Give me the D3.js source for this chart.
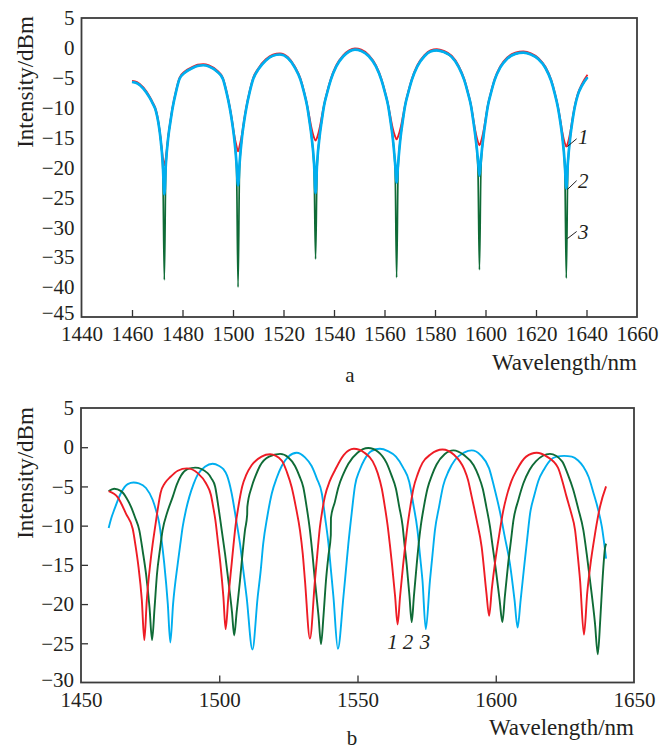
<!DOCTYPE html>
<html>
<head>
<meta charset="utf-8">
<script src="https://cdn.jsdelivr.net/npm/d3@7"></script>
<style>
  html, body { margin: 0; padding: 0; background: #ffffff; }
  svg { display: block; }
  svg text { font-family: "Liberation Serif", "Times New Roman", serif; fill: #231f20; }
</style>
</head>
<body>
<svg id="chart" width="670" height="749"></svg>
<script>
// ---------- Panel a: data ----------
const aWavelength = [1460.0,1462.0,1464.5,1466.8,1468.2,1469.5,1470.4,1471.2,1472.2,1472.8,1473.4,1474.4,1475.2,1476.1,1477.4,1478.8,1481.0,1483.8,1486.0,1488.2,1490.5,1493.8,1496.0,1497.4,1498.7,1499.6,1500.4,1501.4,1502.0,1502.6,1503.6,1504.4,1505.3,1506.6,1508.0,1510.2,1513.0,1515.8,1518.6,1521.7,1524.5,1526.7,1528.1,1529.4,1530.3,1531.1,1532.1,1532.7,1533.3,1534.3,1535.1,1536.0,1537.3,1538.7,1540.9,1543.7,1546.0,1548.3,1550.8,1553.8,1556.6,1558.8,1560.2,1561.5,1562.4,1563.2,1564.2,1564.8,1565.4,1566.4,1567.2,1568.1,1569.4,1570.8,1573.0,1575.8,1578.2,1580.7,1583.5,1586.6,1589.4,1591.6,1593.0,1594.3,1595.2,1596.0,1597.0,1597.6,1598.2,1599.2,1600.0,1600.9,1602.2,1603.6,1605.8,1608.6,1611.8,1615.0,1618.0,1621.0,1623.8,1626.0,1627.4,1628.7,1629.6,1630.4,1631.4,1632.0,1632.6,1633.6,1634.4,1635.3,1636.6,1638.2,1640.4];
const aSeries1 = [-5.5,-5.7,-6.6,-8.0,-9.1,-10.4,-12.2,-14.6,-18.3,-19.7,-18.3,-14.6,-12.2,-9.8,-7.2,-5.0,-3.9,-3.2,-2.8,-2.7,-2.9,-3.8,-5.0,-7.2,-9.8,-12.0,-14.3,-16.4,-17.3,-16.4,-14.3,-12.0,-9.8,-7.2,-5.0,-3.3,-1.9,-1.1,-0.9,-1.5,-3.1,-5.1,-7.2,-9.6,-11.6,-13.4,-15.0,-15.5,-15.0,-13.4,-11.6,-9.6,-7.3,-5.2,-2.9,-1.2,-0.4,-0.1,-0.3,-1.2,-2.9,-5.2,-7.3,-9.6,-11.6,-13.3,-14.8,-15.3,-14.8,-13.3,-11.6,-9.6,-7.3,-5.2,-2.9,-1.2,-0.4,-0.2,-0.5,-1.3,-3.0,-5.2,-7.3,-9.6,-11.9,-13.9,-15.7,-16.3,-15.7,-13.9,-11.9,-9.6,-7.3,-5.2,-3.1,-1.6,-0.8,-0.6,-0.9,-1.7,-3.2,-5.3,-7.4,-9.8,-11.9,-14.0,-15.9,-16.5,-15.9,-14.0,-11.9,-9.8,-7.6,-6.0,-4.5];
const aSeries2 = [-5.7,-5.9,-6.8,-8.2,-9.3,-10.6,-12.4,-14.8,-19.5,-24.5,-19.5,-14.8,-12.4,-10.0,-7.4,-5.2,-4.1,-3.4,-3.0,-2.9,-3.1,-4.0,-5.2,-7.4,-10.0,-12.3,-14.8,-19.3,-23.0,-19.3,-14.8,-12.3,-10.0,-7.4,-5.2,-3.5,-2.1,-1.3,-1.1,-1.7,-3.3,-5.3,-7.4,-9.8,-12.3,-14.8,-19.3,-24.3,-19.3,-14.8,-12.3,-9.8,-7.5,-5.4,-3.1,-1.4,-0.6,-0.3,-0.5,-1.4,-3.1,-5.4,-7.5,-9.8,-12.3,-14.8,-19.3,-22.5,-19.3,-14.8,-12.3,-9.8,-7.5,-5.4,-3.1,-1.4,-0.6,-0.4,-0.7,-1.5,-3.2,-5.4,-7.5,-9.8,-12.3,-14.8,-18.6,-21.4,-18.6,-14.8,-12.3,-9.8,-7.5,-5.4,-3.3,-1.8,-1.0,-0.8,-1.1,-1.9,-3.4,-5.5,-7.6,-10.0,-12.3,-14.8,-19.3,-23.5,-19.3,-14.8,-12.3,-10.0,-7.8,-6.3,-4.9];
const aSeries3 = [-5.7,-5.9,-6.8,-8.2,-9.3,-10.6,-12.4,-14.8,-20.2,-38.8,-20.2,-14.8,-12.4,-10.0,-7.4,-5.2,-4.1,-3.4,-3.0,-2.9,-3.1,-4.0,-5.2,-7.4,-10.0,-12.3,-14.8,-20.2,-40.0,-20.2,-14.8,-12.3,-10.0,-7.4,-5.2,-3.5,-2.1,-1.3,-1.1,-1.7,-3.3,-5.3,-7.4,-9.8,-12.3,-14.8,-20.2,-35.3,-20.2,-14.8,-12.3,-9.8,-7.5,-5.4,-3.1,-1.4,-0.6,-0.3,-0.5,-1.4,-3.1,-5.4,-7.5,-9.8,-12.3,-14.8,-20.2,-38.4,-20.2,-14.8,-12.3,-9.8,-7.5,-5.4,-3.1,-1.4,-0.6,-0.4,-0.7,-1.5,-3.2,-5.4,-7.5,-9.8,-12.3,-14.8,-20.2,-37.1,-20.2,-14.8,-12.3,-9.8,-7.5,-5.4,-3.3,-1.8,-1.0,-0.8,-1.1,-1.9,-3.4,-5.5,-7.6,-10.0,-12.3,-14.8,-20.2,-38.5,-20.2,-14.8,-12.3,-10.0,-7.8,-6.3,-4.9];
const aXTicks = [1440,1460,1480,1500,1520,1540,1560,1580,1600,1620,1640,1660];
const aYTicks = [5,0,-5,-10,-15,-20,-25,-30,-35,-40,-45];

// ---------- Panel b: data ([wavelength, dBm]) ----------
const bSeries1 = [[1460.0,-5.6],[1463.3,-6.4],[1466.3,-8.5],[1468.7,-10.4],[1469.7,-12.5],[1470.7,-15.0],[1472.0,-19.5],[1472.9,-24.6],[1473.8,-19.5],[1475.0,-15.0],[1475.9,-12.4],[1476.8,-10.2],[1477.8,-7.8],[1478.8,-5.8],[1480.3,-4.6],[1482.3,-3.8],[1485.0,-3.0],[1488.3,-2.7],[1492.2,-3.3],[1495.2,-4.6],[1497.0,-6.1],[1497.8,-7.6],[1498.6,-9.3],[1499.5,-12.0],[1500.4,-14.8],[1501.5,-19.1],[1502.3,-23.2],[1503.3,-19.1],[1504.5,-14.8],[1505.2,-12.3],[1505.9,-10.0],[1507.0,-7.4],[1508.3,-5.0],[1509.8,-3.5],[1511.7,-2.3],[1515.3,-1.2],[1518.4,-0.9],[1522.6,-1.7],[1524.5,-3.2],[1526.2,-5.1],[1527.8,-7.8],[1529.2,-10.6],[1530.2,-13.6],[1531.0,-17.0],[1532.8,-24.4],[1534.6,-17.0],[1535.5,-13.5],[1536.4,-10.2],[1537.3,-8.0],[1538.2,-6.3],[1540.0,-4.3],[1541.9,-2.9],[1545.0,-1.0],[1548.7,-0.2],[1552.5,-0.7],[1555.5,-1.8],[1557.3,-3.3],[1558.8,-5.3],[1559.9,-7.6],[1560.9,-10.0],[1561.7,-12.4],[1562.5,-15.0],[1563.6,-19.0],[1564.5,-22.6],[1565.4,-19.0],[1566.5,-15.0],[1567.3,-12.4],[1568.1,-10.0],[1569.1,-7.6],[1570.2,-5.3],[1571.8,-3.4],[1573.5,-2.0],[1576.5,-0.9],[1580.7,-0.3],[1585.0,-1.0],[1588.6,-2.8],[1590.0,-4.2],[1591.3,-6.3],[1593.1,-9.3],[1594.9,-12.7],[1596.6,-18.5],[1597.6,-21.5],[1598.6,-18.0],[1599.7,-14.8],[1600.6,-12.6],[1601.5,-10.6],[1602.6,-8.3],[1603.9,-6.3],[1605.7,-4.3],[1607.6,-2.9],[1611.0,-1.2],[1614.8,-0.7],[1618.5,-1.2],[1622.5,-2.6],[1624.0,-4.2],[1625.6,-6.3],[1627.2,-8.3],[1628.7,-10.6],[1629.6,-13.6],[1630.5,-17.0],[1631.9,-23.9],[1633.1,-18.5],[1634.3,-14.8],[1635.2,-12.6],[1636.1,-10.6],[1637.7,-7.6],[1639.9,-5.0]];
const bSeries2 = [[1460.0,-5.6],[1462.0,-5.3],[1464.5,-5.6],[1466.5,-6.5],[1468.1,-7.6],[1469.6,-9.0],[1471.1,-10.6],[1472.3,-13.2],[1473.5,-16.1],[1474.8,-20.5],[1475.7,-24.6],[1476.6,-20.5],[1477.5,-16.1],[1478.5,-13.2],[1479.5,-10.6],[1481.2,-8.3],[1483.2,-6.3],[1484.6,-4.8],[1486.2,-3.6],[1488.5,-2.8],[1491.3,-2.6],[1495.8,-3.3],[1497.2,-4.0],[1498.5,-5.0],[1499.7,-7.6],[1500.9,-10.6],[1502.1,-13.6],[1503.3,-17.0],[1504.6,-21.0],[1505.4,-24.0],[1506.3,-21.0],[1507.5,-17.0],[1508.4,-13.6],[1509.3,-10.6],[1510.1,-8.6],[1510.15,-7.6],[1511.7,-5.1],[1513.2,-3.6],[1514.7,-2.4],[1518.0,-1.2],[1522.0,-0.85],[1525.0,-1.3],[1527.4,-2.4],[1528.9,-3.6],[1530.4,-5.1],[1531.6,-7.6],[1532.8,-10.6],[1533.7,-13.6],[1534.6,-17.0],[1535.9,-21.5],[1536.8,-25.1],[1537.7,-21.5],[1538.6,-17.0],[1539.5,-13.8],[1540.35,-11.2],[1540.4,-9.0],[1541.8,-7.0],[1543.1,-5.1],[1544.9,-3.4],[1546.7,-2.1],[1550.0,-0.7],[1553.9,-0.1],[1557.5,-0.6],[1560.5,-2.0],[1562.2,-3.5],[1563.9,-5.3],[1565.1,-7.6],[1566.3,-10.0],[1567.0,-12.4],[1567.8,-15.0],[1568.8,-19.0],[1569.6,-22.3],[1570.4,-19.0],[1571.4,-15.0],[1572.1,-12.4],[1572.9,-10.0],[1574.0,-7.6],[1575.3,-5.3],[1577.0,-3.5],[1578.6,-2.2],[1581.5,-0.9],[1584.7,-0.4],[1588.5,-1.0],[1592.0,-2.3],[1593.7,-3.6],[1595.3,-5.3],[1596.6,-7.6],[1597.9,-10.1],[1598.9,-12.7],[1600.0,-15.5],[1601.4,-19.5],[1602.4,-22.3],[1603.3,-19.0],[1604.5,-14.8],[1605.5,-11.9],[1606.4,-9.3],[1608.2,-6.7],[1610.0,-4.6],[1612.2,-2.9],[1614.5,-1.8],[1619.6,-0.85],[1624.0,-1.8],[1626.0,-3.4],[1628.0,-5.4],[1629.8,-7.8],[1631.7,-10.6],[1632.9,-13.6],[1634.1,-17.0],[1635.9,-22.5],[1636.9,-26.4],[1637.8,-22.0],[1638.6,-17.0],[1639.5,-12.9],[1639.9,-12.3]];
const bSeries3 = [[1460.0,-10.3],[1461.0,-9.0],[1462.1,-7.9],[1464.5,-5.8],[1466.9,-4.7],[1469.0,-4.5],[1470.9,-4.6],[1473.5,-5.2],[1475.9,-6.7],[1477.1,-8.0],[1478.3,-9.7],[1479.2,-12.0],[1480.1,-14.8],[1481.4,-20.0],[1482.3,-24.9],[1483.3,-20.0],[1485.0,-14.8],[1485.9,-12.4],[1486.8,-10.1],[1487.9,-8.1],[1489.2,-6.3],[1490.7,-4.7],[1492.2,-3.5],[1494.8,-2.5],[1497.6,-2.1],[1500.0,-2.4],[1501.5,-2.8],[1502.8,-3.6],[1504.5,-5.9],[1506.0,-9.0],[1507.5,-12.3],[1508.7,-15.7],[1509.9,-19.1],[1512.0,-25.8],[1513.9,-19.1],[1515.0,-15.7],[1515.9,-12.3],[1517.4,-8.8],[1519.0,-5.9],[1520.8,-3.9],[1522.6,-2.4],[1525.0,-1.2],[1528.0,-0.7],[1531.0,-1.3],[1533.4,-2.4],[1535.3,-4.0],[1537.1,-5.9],[1538.3,-9.0],[1539.5,-12.3],[1540.4,-15.7],[1541.3,-19.1],[1542.9,-25.7],[1544.9,-19.1],[1545.8,-15.7],[1546.7,-12.3],[1547.9,-8.4],[1549.1,-4.9],[1550.8,-2.9],[1552.5,-1.6],[1555.0,-0.5],[1558.1,-0.2],[1561.0,-0.5],[1563.9,-1.2],[1566.5,-2.6],[1568.7,-4.4],[1570.2,-7.3],[1571.7,-10.6],[1572.6,-13.8],[1573.5,-17.0],[1574.7,-23.2],[1576.2,-17.0],[1577.1,-13.8],[1578.0,-10.6],[1579.5,-7.6],[1581.0,-4.9],[1583.0,-3.0],[1585.3,-1.6],[1588.5,-0.7],[1591.3,-0.4],[1594.5,-1.0],[1597.6,-2.7],[1599.5,-5.2],[1601.5,-8.2],[1603.3,-11.5],[1605.1,-14.8],[1606.8,-19.5],[1607.9,-23.0],[1609.0,-19.5],[1610.4,-14.8],[1611.4,-11.6],[1612.4,-8.5],[1613.9,-6.2],[1615.4,-4.3],[1617.5,-2.8],[1619.6,-1.7],[1622.0,-1.2],[1624.7,-1.1],[1627.5,-1.2],[1629.8,-1.7],[1631.7,-2.5],[1633.6,-3.8],[1635.4,-5.9],[1637.0,-7.9],[1638.4,-10.2],[1639.9,-14.2]];
const bXTicks = [1450,1500,1550,1600,1650];
const bYTicks = [5,0,-5,-10,-15,-20,-25,-30];

const seriesLabels = ["1", "2", "3"];
const RED = "#ee1c25", CYAN = "#00aeef", GREEN = "#0f6b36";

// ---------- drawing ----------
const svg = d3.select("#chart");
const fmt = d => d < 0 ? "\u2212" + Math.abs(d) : String(d);
const SERIF = '"Liberation Serif", "Times New Roman", serif';
const TICK_FONT = 21, TITLE_FONT = 23;

function panel(opt) {
  const x = d3.scaleLinear().domain(opt.xDomain).range([opt.left, opt.right]);
  const y = d3.scaleLinear().domain(opt.yDomain).range([opt.bottom, opt.top]);
  const g = svg.append("g").attr("font-family", SERIF);

  const clipId = "clip" + opt.id;
  g.append("clipPath").attr("id", clipId).append("rect")
    .attr("x", opt.left).attr("y", opt.top)
    .attr("width", opt.right - opt.left).attr("height", opt.bottom - opt.top);

  const xa = d3.axisBottom(x).tickValues(opt.xTicks).tickFormat(d3.format("d"))
    .tickSize(-7).tickSizeOuter(0).tickPadding(opt.xPad);
  const gx = g.append("g").attr("transform", `translate(0,${opt.bottom})`).call(xa)
    .attr("font-family", SERIF);
  gx.select(".domain").remove();
  gx.selectAll("line").attr("stroke", "#333").attr("stroke-width", 1.3)
    .filter(d => d === opt.xDomain[0] || d === opt.xDomain[1]).remove();
  gx.selectAll("text").attr("font-size", TICK_FONT).attr("fill", "#231f20")
    .attr("font-family", SERIF);

  const ya = d3.axisLeft(y).tickValues(opt.yTicks).tickFormat(fmt)
    .tickSize(opt.yTickSize).tickSizeOuter(0).tickPadding(7);
  const gy = g.append("g").attr("transform", `translate(${opt.left},0)`).call(ya)
    .attr("font-family", SERIF);
  gy.select(".domain").remove();
  gy.selectAll("line").attr("stroke", "#333").attr("stroke-width", 1.3)
    .filter(d => d === opt.yDomain[0] || d === opt.yDomain[1]).remove();
  if (opt.yTickSize === 0) gy.selectAll("line").remove();
  gy.selectAll("text").attr("font-size", TICK_FONT).attr("fill", "#231f20")
    .attr("font-family", SERIF);
  // lowest y label sits a little higher, clear of the x labels
  gy.selectAll("text").filter(d => d === opt.yDomain[0]).attr("dy", opt.lowDy);

  const line = d3.line().x(d => x(d[0])).y(d => y(d[1])).curve(d3.curveMonotoneX);
  const lines = g.append("g").attr("clip-path", `url(#${clipId})`);
  opt.series.forEach(s => {
    lines.append("path").datum(s.pts).attr("d", line)
      .attr("fill", "none").attr("stroke", s.color)
      .attr("stroke-width", s.width).attr("stroke-linejoin", "round");
  });

  g.append("rect").attr("x", opt.left).attr("y", opt.top)
    .attr("width", opt.right - opt.left).attr("height", opt.bottom - opt.top)
    .attr("fill", "none").attr("stroke", "#3c3c3c").attr("stroke-width", 1.8);

  g.append("text").attr("transform", `translate(${opt.yTitleX},${opt.yTitleY}) rotate(-90)`)
    .attr("text-anchor", "middle").attr("font-size", TITLE_FONT).attr("font-family", SERIF)
    .text("Intensity/dBm");
  g.append("text").attr("x", opt.right).attr("y", opt.xTitleY)
    .attr("text-anchor", "end").attr("font-size", TITLE_FONT).attr("font-family", SERIF)
    .text("Wavelength/nm");
  g.append("text").attr("x", opt.letterX).attr("y", opt.letterY)
    .attr("text-anchor", "middle").attr("font-size", 21).attr("font-family", SERIF)
    .text(opt.letter);

  return { g, x, y };
}

const zipA = ys => aWavelength.map((w, i) => [w, ys[i]]);
const sortB = arr => arr.slice().sort((p, q) => p[0] - q[0]);

// Panel a
const pa = panel({
  id: "a", xDomain: [1440, 1660], yDomain: [-45, 5],
  left: 81.5, right: 637, top: 18, bottom: 317,
  xTicks: aXTicks, yTicks: aYTicks, xPad: 9.5, yTickSize: 0, lowDy: "0.1em",
  series: [
    { pts: zipA(aSeries3), color: GREEN, width: 1.7 },
    { pts: zipA(aSeries1), color: RED, width: 1.8 },
    { pts: zipA(aSeries2), color: CYAN, width: 2.7 }
  ],
  yTitleX: 33, yTitleY: 82, xTitleY: 370, letter: "a", letterX: 350, letterY: 382
});

const aLabelAnchors = [[-16.5, -15.2, -16.0], [-23.7, -22.2, -23.4], [-31.9, -30.7, -32.0]];
aLabelAnchors.forEach((a, i) => {
  pa.g.append("line")
    .attr("x1", pa.x(1632.4)).attr("y1", pa.y(a[0]))
    .attr("x2", pa.x(1636.1)).attr("y2", pa.y(a[1]))
    .attr("stroke", "#231f20").attr("stroke-width", 1);
  pa.g.append("text").attr("x", pa.x(1636.6)).attr("y", pa.y(a[2]))
    .attr("font-size", 21).attr("font-style", "italic").attr("font-family", SERIF)
    .text(seriesLabels[i]);
});

// Panel b
const pb = panel({
  id: "b", xDomain: [1450, 1650], yDomain: [-30, 5],
  left: 81, right: 634, top: 408, bottom: 682.5,
  xTicks: bXTicks, yTicks: bYTicks, xPad: 9.3, yTickSize: -7, lowDy: "0.2em",
  series: [
    { pts: sortB(bSeries3), color: CYAN, width: 1.9 },
    { pts: sortB(bSeries2), color: GREEN, width: 1.9 },
    { pts: sortB(bSeries1), color: RED, width: 1.9 }
  ],
  yTitleX: 33, yTitleY: 473, xTitleY: 735, letter: "b", letterX: 352, letterY: 745
});

const bLabelX = [1562.7, 1568.3, 1574.4];
bLabelX.forEach((w, i) => {
  pb.g.append("text").attr("x", pb.x(w)).attr("y", pb.y(-25.7))
    .attr("text-anchor", "middle").attr("font-size", 21).attr("font-style", "italic")
    .attr("font-family", SERIF).text(seriesLabels[i]);
});
</script>
</body>
</html>
